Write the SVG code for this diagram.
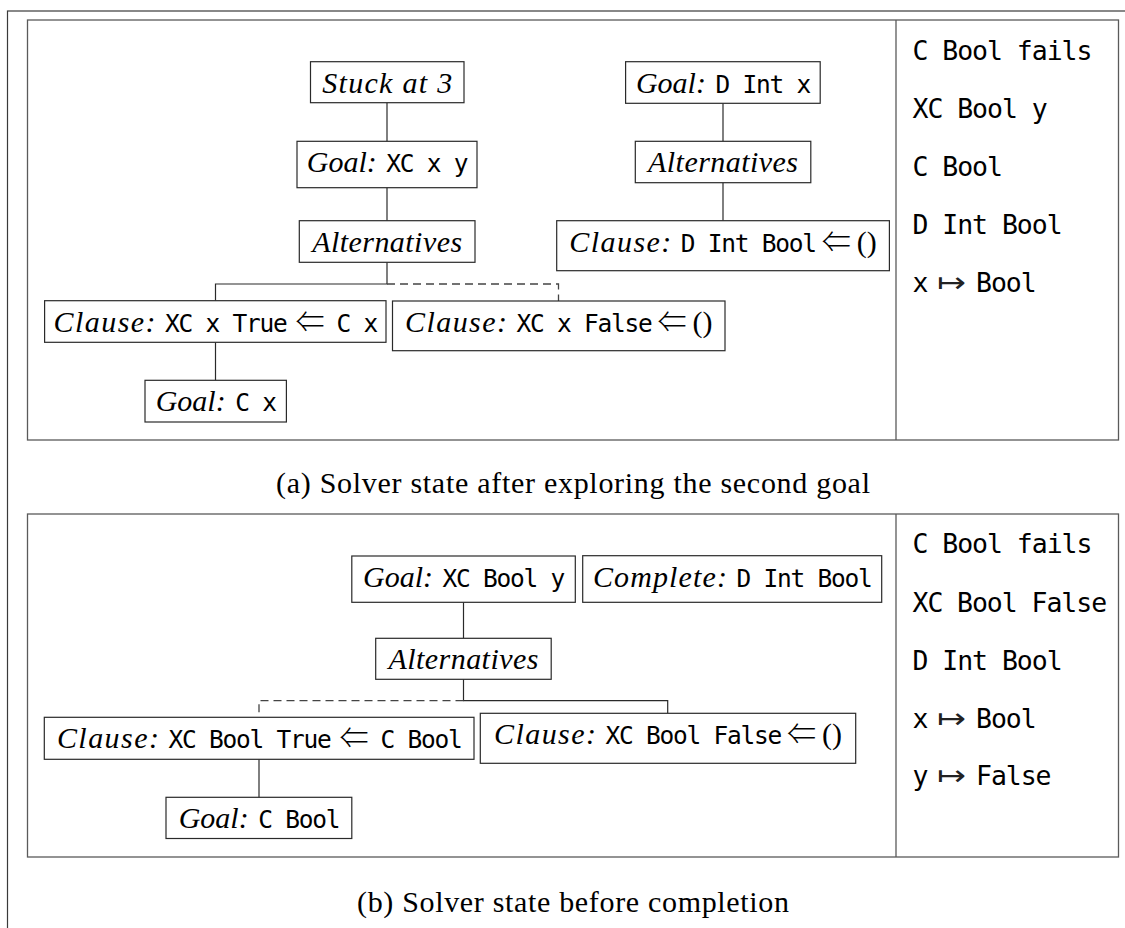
<svg xmlns="http://www.w3.org/2000/svg" width="1125" height="928" viewBox="0 0 1125 928">
<style>
.frame{fill:none;stroke:#3a3a3a;stroke-width:1.2}
.panel{fill:none;stroke:#5a5a5a;stroke-width:1.3}
.box{fill:#fff;stroke:#2a2a2a;stroke-width:1.2}
.edge{fill:none;stroke:#2a2a2a;stroke-width:1.2}
.dash{fill:none;stroke:#444;stroke-width:1.3;stroke-dasharray:8 5}
.it{font-family:"Liberation Serif",serif;font-style:italic;font-size:30px;fill:#000}
.tt{font-family:"DejaVu Sans Mono",monospace;font-size:24.5px;letter-spacing:-1.25px;fill:#000}
.rm{font-family:"Liberation Serif",serif;font-size:30px;fill:#000}
.sym{font-family:"Noto Sans CJK JP","DejaVu Sans",sans-serif;font-weight:300;font-size:30px;fill:#000}
.map{font-family:"DejaVu Sans",sans-serif;font-size:28px;fill:#222}
.col{font-family:"DejaVu Sans Mono",monospace;font-size:26.5px;letter-spacing:-1.05px;fill:#000}
.cap{font-family:"Liberation Serif",serif;font-size:30px;fill:#000}
</style>
<rect x="0" y="0" width="1125" height="928" fill="#fff"/>
<rect class="frame" x="7.5" y="11" width="1130" height="930"/>
<g id="panel-a">
<rect class="panel" x="27.5" y="20" width="1091" height="420"/>
<line class="panel" x1="896" y1="20" x2="896" y2="440"/>
</g>
<g id="panel-b">
<rect class="panel" x="27.5" y="514" width="1091" height="343"/>
<line class="panel" x1="896" y1="514" x2="896" y2="857"/>
</g>
<g id="connectors">
<line class="edge" x1="387" y1="102.7" x2="387" y2="141.3"/>
<line class="edge" x1="387" y1="187.7" x2="387" y2="220.7"/>
<polyline class="edge" points="387,262.3 387,284 215.5,284 215.5,300.7"/>
<polyline class="dash" points="387,284 558.5,284 558.5,301"/>
<line class="edge" x1="215.5" y1="342.3" x2="215.5" y2="380.3"/>
<line class="edge" x1="723" y1="103.3" x2="723" y2="141.3"/>
<line class="edge" x1="723" y1="182.7" x2="723" y2="220.7"/>
<line class="edge" x1="463.5" y1="602.3" x2="463.5" y2="638.3"/>
<polyline class="edge" points="463.5,679.3 463.5,700.7 667.7,700.7 667.7,713.3"/>
<polyline class="dash" points="463.5,700.7 259,700.7 259,717.3"/>
<line class="edge" x1="259" y1="759.3" x2="259" y2="797.3"/>
</g>
<g id="a-stuck">
<rect class="box" x="310.5" y="61.7" width="153.5" height="41"/>
<text class="it" x="387.25" y="92.7" text-anchor="middle" textLength="130" lengthAdjust="spacing">Stuck at 3</text>
</g>
<g id="a-goal-xc">
<rect class="box" x="297" y="141.3" width="180" height="46.4"/>
<text y="172.3"><tspan class="it" x="306.75" textLength="70">Goal:</tspan><tspan class="tt" x="386.25">XC x y</tspan></text>
</g>
<g id="a-alt1">
<rect class="box" x="299.3" y="220.7" width="175.7" height="41.6"/>
<text class="it" x="387.15" y="251.7" text-anchor="middle" textLength="150" lengthAdjust="spacing">Alternatives</text>
</g>
<g id="a-clause-true">
<rect class="box" x="44.6" y="300.7" width="341.4" height="41.6"/>
<text y="331.7"><tspan class="it" x="53.55" textLength="102">Clause:</tspan><tspan class="tt" x="165.05">XC x True</tspan><tspan class="sym" x="295.5" textLength="29" lengthAdjust="spacingAndGlyphs">⇐</tspan><tspan class="tt" x="336.55">C x</tspan></text>
</g>
<g id="a-clause-false">
<rect class="box" x="392.5" y="301" width="332.5" height="49.7"/>
<text y="332"><tspan class="it" x="405" textLength="102">Clause:</tspan><tspan class="tt" x="516.5">XC x False</tspan><tspan class="sym" x="657.5" textLength="29" lengthAdjust="spacingAndGlyphs">⇐</tspan><tspan class="rm" x="692.5" textLength="20">()</tspan></text>
</g>
<g id="a-goal-cx">
<rect class="box" x="145" y="380.3" width="141.4" height="41.7"/>
<text y="411.3"><tspan class="it" x="155.7" textLength="70">Goal:</tspan><tspan class="tt" x="235.2">C x</tspan></text>
</g>
<g id="a-goal-d">
<rect class="box" x="625.6" y="61.7" width="194.6" height="41.6"/>
<text y="92.7"><tspan class="it" x="635.9" textLength="70">Goal:</tspan><tspan class="tt" x="715.4">D Int x</tspan></text>
</g>
<g id="a-alt2">
<rect class="box" x="635.3" y="141.3" width="175.5" height="41.4"/>
<text class="it" x="723.05" y="172.3" text-anchor="middle" textLength="150" lengthAdjust="spacing">Alternatives</text>
</g>
<g id="a-clause-d">
<rect class="box" x="556.7" y="220.7" width="332.7" height="50"/>
<text y="251.7"><tspan class="it" x="569.3" textLength="102">Clause:</tspan><tspan class="tt" x="680.8">D Int Bool</tspan><tspan class="sym" x="821.8" textLength="29" lengthAdjust="spacingAndGlyphs">⇐</tspan><tspan class="rm" x="856.8" textLength="20">()</tspan></text>
</g>
<g id="a-state">
<text class="col" x="912.5" y="60">C Bool fails</text>
<text class="col" x="912.5" y="118">XC Bool y</text>
<text class="col" x="912.5" y="176">C Bool</text>
<text class="col" x="912.5" y="234">D Int Bool</text>
<text y="292"><tspan class="col" x="912.5">x</tspan><tspan class="map" x="937" textLength="29" lengthAdjust="spacingAndGlyphs">↦</tspan><tspan class="col" x="976">Bool</tspan></text>
</g>
<text class="cap" x="573" y="493" text-anchor="middle" textLength="594" lengthAdjust="spacing">(a) Solver state after exploring the second goal</text>
<g id="b-goal-xc">
<rect class="box" x="351.8" y="556" width="223.5" height="46.3"/>
<text y="587"><tspan class="it" x="363.05" textLength="70">Goal:</tspan><tspan class="tt" x="442.55">XC Bool y</tspan></text>
</g>
<g id="b-complete">
<rect class="box" x="582.7" y="555.7" width="299" height="46.6"/>
<text y="586.7"><tspan class="it" x="592.95" textLength="134">Complete:</tspan><tspan class="tt" x="736.45">D Int Bool</tspan></text>
</g>
<g id="b-alt">
<rect class="box" x="375.7" y="638.3" width="175.5" height="41"/>
<text class="it" x="463.45" y="669.3" text-anchor="middle" textLength="150" lengthAdjust="spacing">Alternatives</text>
</g>
<g id="b-clause-true">
<rect class="box" x="44.3" y="717.3" width="429.7" height="42"/>
<text y="748"><tspan class="it" x="56.9" textLength="102">Clause:</tspan><tspan class="tt" x="168.4">XC Bool True</tspan><tspan class="sym" x="339.4" textLength="29" lengthAdjust="spacingAndGlyphs">⇐</tspan><tspan class="tt" x="380.4">C Bool</tspan></text>
</g>
<g id="b-clause-false">
<rect class="box" x="480.3" y="713.3" width="375.4" height="50"/>
<text y="744.3"><tspan class="it" x="494" textLength="102">Clause:</tspan><tspan class="tt" x="605.5">XC Bool False</tspan><tspan class="sym" x="787" textLength="29" lengthAdjust="spacingAndGlyphs">⇐</tspan><tspan class="rm" x="822" textLength="20">()</tspan></text>
</g>
<g id="b-goal-c">
<rect class="box" x="166" y="797.3" width="185.8" height="41.2"/>
<text y="828.3"><tspan class="it" x="178.65" textLength="70">Goal:</tspan><tspan class="tt" x="258.15">C Bool</tspan></text>
</g>
<g id="b-state">
<text class="col" x="912.5" y="553">C Bool fails</text>
<text y="611.5"><tspan class="col" x="912.5">XC</tspan><tspan class="col" x="957">Bool False</tspan></text>
<text class="col" x="912.5" y="669.5">D Int Bool</text>
<text y="727.5"><tspan class="col" x="912.5">x</tspan><tspan class="map" x="937" textLength="29" lengthAdjust="spacingAndGlyphs">↦</tspan><tspan class="col" x="976">Bool</tspan></text>
<text y="785"><tspan class="col" x="912.5">y</tspan><tspan class="map" x="937" textLength="29" lengthAdjust="spacingAndGlyphs">↦</tspan><tspan class="col" x="976">False</tspan></text>
</g>
<text class="cap" x="573" y="912" text-anchor="middle" textLength="432" lengthAdjust="spacing">(b) Solver state before completion</text>
</svg>
